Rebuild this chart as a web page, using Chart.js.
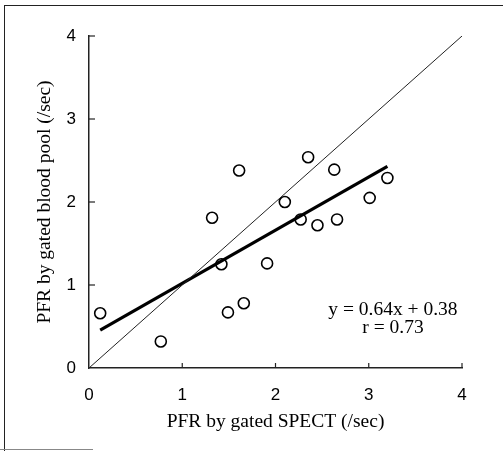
<!DOCTYPE html>
<html>
<head>
<meta charset="utf-8">
<script src="https://cdn.jsdelivr.net/npm/chart.js@4.4.1/dist/chart.umd.min.js"></script>
<style>
  html, body { margin: 0; padding: 0; background: #fff; }
  #wrap { position: relative; width: 503px; height: 451px; }
  #frame { position: absolute; left: 4px; top: 5px; right: 0; bottom: 0;
           border-left: 1.5px solid #222; border-top: 1.5px solid #222; pointer-events: none; }
  #foot { position: absolute; left: 0; top: 449px; width: 93px; height: 0;
          border-top: 1px solid #888; pointer-events: none; }
</style>
</head>
<body>
<div id="wrap">
  <canvas id="chart" width="503" height="451"></canvas>
  <div id="frame"></div>
  <div id="foot"></div>
</div>
<script>
const spectPFR = [0.12, 0.77, 1.32, 1.42, 1.49, 1.61, 1.66, 1.91, 2.10, 2.27, 2.35, 2.45, 2.63, 2.66, 3.01, 3.20];
const poolPFR  = [0.66, 0.32, 1.81, 1.25, 0.67, 2.38, 0.78, 1.26, 2.00, 1.79, 2.54, 1.72, 2.39, 1.79, 2.05, 2.29];

// regression line end points (y = 0.64x + 0.38) and identity line
const fitX = [0.12, 3.20];
const fitY = [0.457, 2.43];
const identX = [0, 4];
const identY = [0, 4];

const tickValues = [0, 1, 2, 3, 4];
const fitText = ['y = 0.64x + 0.38', 'r = 0.73'];
const fitTextPos = [3.26, 0.70, 0.48]; // x, y line 1, y line 2 (data units)

const xTitle = 'PFR by gated SPECT (/sec)';
const yTitle = 'PFR by gated blood pool (/sec)';

const serif = '"Liberation Serif", "DejaVu Serif", serif';
const sans = '"Liberation Sans", Arial, sans-serif';

function toPoints(xs, ys) {
    return xs.map((x, i) => ({ x: x, y: ys[i] }));
}

// draws the small inward tick marks and the equation text
const extras = {
    id: 'extras',
    afterDatasetsDraw(chart) {
        const ctx = chart.ctx;
        const xs = chart.scales.x, ys = chart.scales.y;
        ctx.save();
        ctx.strokeStyle = '#222';
        ctx.lineWidth = 1.2;
        tickValues.slice(1).forEach(v => {
            const px = xs.getPixelForValue(v);
            ctx.beginPath();
            ctx.moveTo(px, xs.top);
            ctx.lineTo(px, xs.top - 5);
            ctx.stroke();
            const py = ys.getPixelForValue(v);
            ctx.beginPath();
            ctx.moveTo(ys.right, py);
            ctx.lineTo(ys.right + 6, py);
            ctx.stroke();
        });
        ctx.fillStyle = '#000';
        ctx.font = '19.5px ' + serif;
        ctx.textAlign = 'center';
        ctx.textBaseline = 'middle';
        const tx = xs.getPixelForValue(fitTextPos[0]);
        ctx.fillText(fitText[0], tx, ys.getPixelForValue(fitTextPos[1]));
        ctx.fillText(fitText[1], tx, ys.getPixelForValue(fitTextPos[2]));
        ctx.restore();
    }
};

const ctx = document.getElementById('chart').getContext('2d');

new Chart(ctx, {
    type: 'scatter',
    data: {
        datasets: [
            {
                // identity line
                type: 'line',
                data: toPoints(identX, identY),
                borderColor: '#222',
                borderWidth: 1,
                pointRadius: 0,
                fill: false
            },
            {
                // regression line
                type: 'line',
                data: toPoints(fitX, fitY),
                borderColor: '#000',
                borderWidth: 3.2,
                pointRadius: 0,
                fill: false
            },
            {
                data: toPoints(spectPFR, poolPFR),
                pointStyle: 'circle',
                pointRadius: 5.5,
                pointBorderWidth: 1.6,
                pointBorderColor: '#000',
                pointBackgroundColor: '#fff'
            }
        ]
    },
    options: {
        responsive: false,
        animation: false,
        layout: { padding: { left: 0, right: 41, top: 36, bottom: 0 } },
        plugins: {
            legend: { display: false },
            tooltip: { enabled: false }
        },
        scales: {
            x: {
                type: 'linear',
                min: 0,
                max: 4,
                afterFit: s => { s.height = 83; },
                afterBuildTicks: s => { s.ticks = tickValues.map(v => ({ value: v })); },
                grid: { display: true, drawOnChartArea: false, drawTicks: false },
                border: { display: true, color: '#222', width: 1.5 },
                ticks: { color: '#000', padding: 17, font: { family: sans, size: 17 } },
                title: {
                    display: true,
                    text: xTitle,
                    color: '#000',
                    font: { family: serif, size: 19.5 },
                    padding: { top: 0, bottom: 17 }
                }
            },
            y: {
                type: 'linear',
                min: 0,
                max: 4,
                afterFit: s => { s.width = 89; },
                afterBuildTicks: s => { s.ticks = tickValues.map(v => ({ value: v })); },
                grid: { display: true, drawOnChartArea: false, drawTicks: false },
                border: { display: true, color: '#222', width: 1.5 },
                ticks: { color: '#000', padding: 13, font: { family: sans, size: 17 } },
                title: {
                    display: true,
                    text: yTitle,
                    color: '#000',
                    font: { family: serif, size: 19.5 },
                    padding: { top: 33, bottom: 0 }
                }
            }
        }
    },
    plugins: [extras]
});
</script>
</body>
</html>
